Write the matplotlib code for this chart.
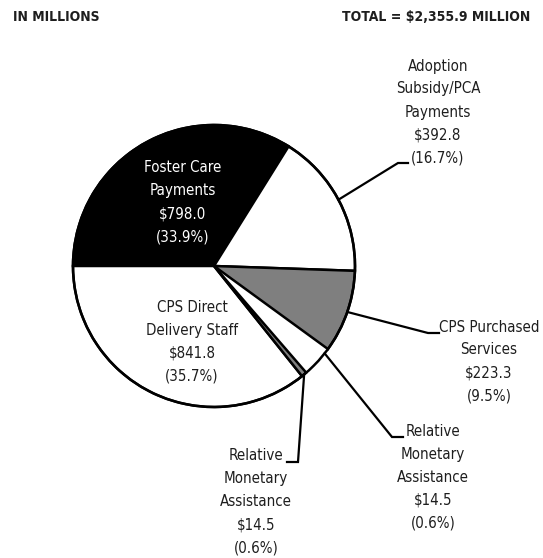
import numpy as np
import matplotlib.pyplot as plt

# Spending by program, in millions
names = ['Foster Care\nPayments', 'Adoption\nSubsidy/PCA\nPayments', 'CPS Purchased\nServices',
         'Relative\nMonetary\nAssistance', '', 'Relative\nMonetary\nAssistance',
         'CPS Direct\nDelivery Staff']
amounts = [798.0, 392.8, 223.3, 14.5, 71.0, 14.5, 841.8]
total = 2355.9
colors = ['black', 'white', '#7f7f7f', 'white', 'white', '#7f7f7f', 'white']

W, H = 543, 558
FONT = dict(family='DejaVu Sans', fontstretch='condensed')
TXT = '#1e1e1e'

fig = plt.figure(figsize=(W / 100, H / 100), dpi=100)
ax = fig.add_axes([0, 0, 1, 1])

cx, cy, r = 214, H - 266, 141
wedges, _ = ax.pie(amounts, colors=colors, startangle=180, counterclock=False,
                   center=(cx, cy), radius=r,
                   wedgeprops=dict(edgecolor='black', linewidth=1.8))
# the two white slices next to each other share no dividing line
for w in wedges[3:5]:
    w.set_linewidth(0)
    w.set_zorder(1)
for w in (wedges[2], wedges[5]):
    w.set_zorder(2)
ax.add_patch(plt.Circle((cx, cy), r, fill=False, edgecolor='black', linewidth=1.8, zorder=3))

ax.set_xlim(0, W)
ax.set_ylim(0, H)
ax.set_aspect('equal')
ax.axis('off')


def edge_point(angle):
    a = np.deg2rad(angle)
    return cx + r * np.cos(a), cy + r * np.sin(a)


def mid(w):
    return (w.theta1 + w.theta2) / 2


def label(i, x, y_top, color=TXT):
    lines = names[i].split('\n') + ['$%.1f' % amounts[i], '(%.1f%%)' % (amounts[i] / total * 100)]
    for k, s in enumerate(lines):
        ax.text(x, H - (y_top + k * 23), s, ha='center', va='center', fontsize=10.8,
                color=color, **FONT)


def leader(angle, elbow, end):
    x0, y0 = edge_point(angle)
    ax.plot([x0, elbow[0], end[0]], [y0, H - elbow[1], H - end[1]],
            color='black', lw=1.6, solid_joinstyle='miter')


label(0, 183, 168, color='white')
label(1, 438, 66)
label(2, 489, 327)
label(3, 433, 431)
label(5, 256, 456)
label(6, 192, 307)

leader(mid(wedges[1]), (398, 163), (408, 163))
leader(mid(wedges[2]), (428, 333), (439, 333))
leader((wedges[3].theta1 + wedges[4].theta2) / 2, (392, 437), (403, 437))
leader(mid(wedges[5]), (298, 462), (287, 462))

ax.text(13, H - 17, 'IN MILLIONS', ha='left', va='center', fontsize=10, color=TXT,
        fontweight='bold', **FONT)
ax.text(530, H - 17, 'TOTAL = ${:,.1f} MILLION'.format(total), ha='right', va='center',
        fontsize=10, color=TXT, fontweight='bold', **FONT)

fig.savefig('out.png', dpi=100)
